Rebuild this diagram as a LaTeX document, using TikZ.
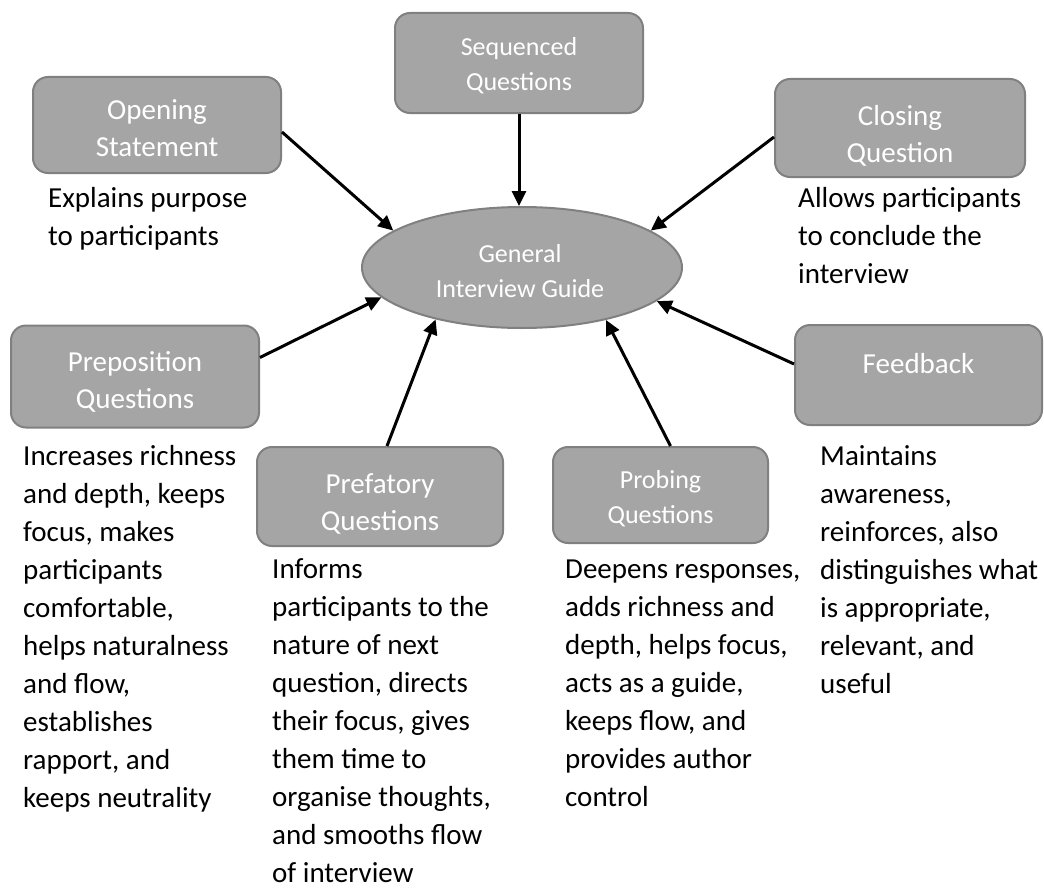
\documentclass[tikz,border=0pt]{standalone}
\usepackage{fontspec}
\setmainfont{Carlito}
\usetikzlibrary{shapes.geometric,arrows.meta}

\definecolor{boxfill}{HTML}{A5A5A5}
\definecolor{boxline}{HTML}{808080}

\tikzset{
  box/.style={draw=boxline, fill=boxfill, line width=2pt, rounded corners=15pt, inner sep=0pt},
  hub/.style={ellipse, draw=boxline, fill=boxfill, line width=2pt, inner sep=0pt,
              minimum width=320pt, minimum height=121pt},
  % multi-line labels: the base anchor sits on the baseline of the last line
  boxtext/.style={text=white, align=center, anchor=base, inner sep=0pt,
                  font=\fontsize{29pt}{37pt}\selectfont},
  smalltext/.style={boxtext, font=\fontsize{26pt}{34.5pt}\selectfont},
  desc/.style={align=left, anchor=base west, inner sep=0pt,
               font=\fontsize{29pt}{38pt}\selectfont},
  arr/.style={-{Triangle[length=15pt,width=14pt]}, line width=3pt, black}
}

\begin{document}
\begin{tikzpicture}[x=1pt, y=-1pt]
\useasboundingbox (0,0) rectangle (1044,891);

% central ellipse
\node[hub] (gig) at (522,267.5) {};
\node[smalltext] (gigT) at (520,297) {General\\Interview Guide};

% surrounding boxes
\node[box, minimum width=248pt, minimum height=100pt] (seq) at (519,63) {};
\node[smalltext] (seqT) at (519,90) {Sequenced\\Questions};

\node[box, minimum width=248pt, minimum height=96pt] (open) at (157,125) {};
\node[boxtext] (openT) at (157,156) {Opening\\Statement};

\node[box, minimum width=250pt, minimum height=98pt] (close) at (900,128) {};
\node[boxtext] (closeT) at (900,162) {Closing\\Question};

\node[box, minimum width=248pt, minimum height=102pt] (prep) at (135,376.5) {};
\node[boxtext] (prepT) at (135,408) {Preposition\\Questions};

\node[box, minimum width=247pt, minimum height=100pt] (feed) at (918.5,375) {};
\node[boxtext] (feedT) at (918.5,373) {Feedback};

\node[box, minimum width=246pt, minimum height=99pt] (pref) at (380,496.5) {};
\node[boxtext] (prefT) at (380,530) {Prefatory\\Questions};

\node[box, minimum width=215pt, minimum height=96pt] (prob) at (660.5,495) {};
\node[smalltext] (probT) at (660.5,523) {Probing\\Questions};

% descriptions (positioned by the baseline of their last line)
\node[desc] (openD) at (48,245) {Explains purpose\\to participants};
\node[desc] (closeD) at (798,283) {Allows participants\\to conclude the\\interview};
\node[desc] (prepD) at (23,807) {Increases richness\\and depth, keeps\\focus, makes\\participants\\comfortable,\\helps naturalness\\and flow,\\establishes\\rapport, and\\keeps neutrality};
\node[desc] (feedD) at (820,693) {Maintains\\awareness,\\reinforces, also\\distinguishes what\\is appropriate,\\relevant, and\\useful};
\node[desc] (prefD) at (272,882) {Informs\\participants to the\\nature of next\\question, directs\\their focus, gives\\them time to\\organise thoughts,\\and smooths flow\\of interview};
\node[desc] (probD) at (565,806) {Deepens responses,\\adds richness and\\depth, helps focus,\\acts as a guide,\\keeps flow, and\\provides author\\control};

% connectors into the hub
\draw[arr] (seq.south) -- (seq.south |- gig.north);
\draw[arr] ([yshift=-7pt]open.east) -- (gig.164.9);
\draw[arr] ([yshift=-9pt]close.west) -- (gig.16.6);
\draw[arr] ([yshift=19pt]prep.east) -- (gig.192.3);
\draw[arr] ([yshift=11pt]feed.west) -- (gig.346.6);
\draw[arr] ([xshift=7pt]pref.north) -- (gig.211.2);
\draw[arr] ([xshift=10pt]prob.north) -- (gig.328.9);
\end{tikzpicture}
\end{document}
